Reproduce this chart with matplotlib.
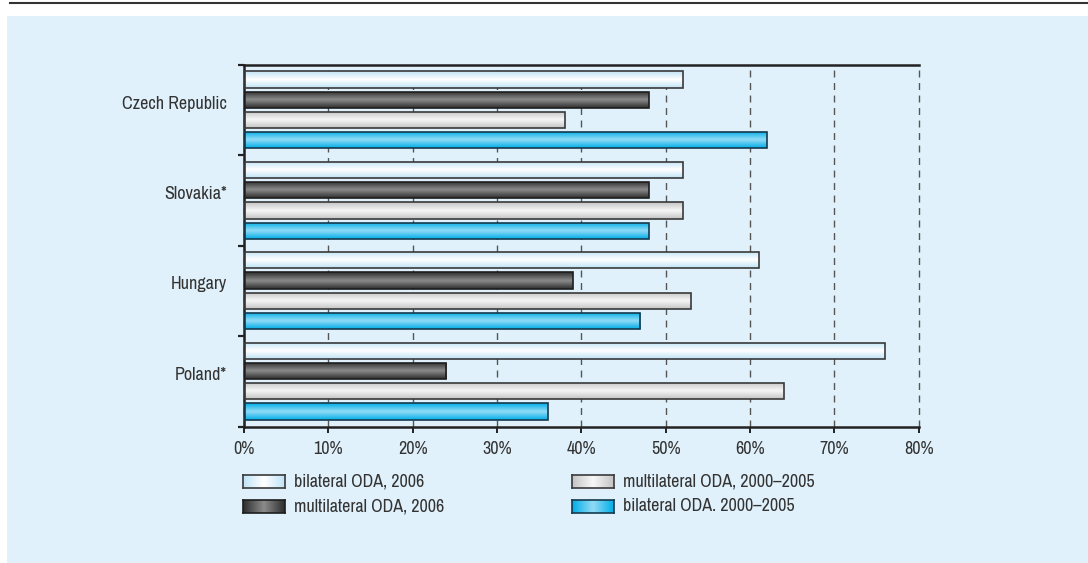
import numpy as np
import matplotlib
matplotlib.use('Agg')
import matplotlib.pyplot as plt
from matplotlib import font_manager
from matplotlib.colors import LinearSegmentedColormap
from matplotlib.patches import Rectangle
from matplotlib.lines import Line2D

countries = ['Czech Republic', 'Slovakia*', 'Hungary', 'Poland*']
series_names = ['bilateral ODA, 2006', 'multilateral ODA, 2006',
                'multilateral ODA, 2000\u20132005', 'bilateral ODA. 2000\u20132005']
bilateral_2006 = [52, 52, 61, 76]
multilateral_2006 = [48, 48, 39, 24]
multilateral_0005 = [38, 52, 53, 64]
bilateral_0005 = [62, 48, 47, 36]
values = [bilateral_2006, multilateral_2006, multilateral_0005, bilateral_0005]

# pick a narrow face if one is installed
names = sorted({f.name for f in font_manager.fontManager.ttflist})
narrow = [n for n in names if 'Narrow' in n or 'Condensed' in n]
stretch = 'normal'
if narrow:
    fam = narrow[0]
else:
    cond = [f for f in font_manager.fontManager.ttflist
            if f.name == 'DejaVu Sans' and f.stretch == 'condensed']
    if cond:
        fam = 'DejaVu Sans'
        stretch = 'condensed'
    else:
        fam = 'Roboto'
plt.rcParams['font.family'] = [fam, 'DejaVu Sans']
plt.rcParams['font.stretch'] = stretch

# (edge colour of gradient, middle colour, outline)
styles = [('#bfe3f6', '#ffffff', '#3a3a3a'),
          ('#2e2e2e', '#8c8c8c', '#1e1e1e'),
          ('#c4c4c4', '#f7f7f7', '#3a3a3a'),
          ('#00aee8', '#92dbf6', '#163a4e')]

bg = '#e0f1fb'
txt = '#333333'
fs = 13

fig = plt.figure(figsize=(10.88, 5.63), dpi=100)
W, H = 1088, 563

# background panel and top rule
fig.patches.append(Rectangle((7 / W, 0), 1, 1 - 16 / H, transform=fig.transFigure,
                             facecolor=bg, edgecolor='none', zorder=-10))
fig.lines.append(Line2D([10 / W, 1], [1 - 2.5 / H, 1 - 2.5 / H], transform=fig.transFigure,
                        color='#333333', lw=1.5))

ax = fig.add_axes([244 / W, 1 - 426.7 / H, (918.8 - 244) / W, (426.7 - 65) / H])
ax.set_facecolor(bg)


def grad_fill(axis, patch, c_edge, c_mid):
    cmap = LinearSegmentedColormap.from_list('g', [c_edge, c_mid, c_edge])
    g = np.linspace(0, 1, 64).reshape(-1, 1)
    x0, y0 = patch.get_x(), patch.get_y()
    w, h = patch.get_width(), patch.get_height()
    im = axis.imshow(g, cmap=cmap, aspect='auto', extent=(x0, x0 + w, y0 + h, y0),
                     interpolation='bicubic', zorder=2.5)
    im.set_clip_path(patch)


offsets = [0.16, 0.384, 0.608, 0.832]
bar_h = 0.18
pos = np.arange(len(countries))
for vals, off, (ce, cm, oc) in zip(values, offsets, styles):
    bars = ax.barh(pos + off, vals, height=bar_h, facecolor='none', edgecolor=oc,
                   linewidth=1.2, zorder=3)
    for p in bars.patches:
        grad_fill(ax, p, ce, cm)

ax.set_xlim(0, 80)
ax.set_ylim(4, 0)
ax.set_xticks(np.arange(0, 81, 10))
ax.set_xticklabels([f'{v}%' for v in range(0, 81, 10)])
ax.set_yticks(pos + 0.41)
ax.set_yticklabels(countries)
ax.set_yticks(np.arange(0, 5), minor=True)
ax.tick_params(axis='y', which='major', length=0, pad=12, labelsize=fs, labelcolor=txt)
ax.tick_params(axis='y', which='minor', length=4.5, width=1.6, color='#222222', direction='out')
ax.tick_params(axis='x', length=4, width=1.4, color='#222222', pad=6, labelsize=fs,
               labelcolor=txt)

ax.grid(axis='x', linestyle=(0, (5, 4)), color='#555555', linewidth=1.0, zorder=1)
ax.set_axisbelow(True)
for gl in ax.get_xgridlines():
    gl.set_clip_on(False)
for s in ['top', 'bottom', 'left']:
    ax.spines[s].set_color('#222222')
    ax.spines[s].set_linewidth(1.8)
ax.spines['right'].set_visible(False)

# legend
leg_pos = [(243.3, 475), (243.3, 499.5), (572.3, 475), (572.3, 499.5)]
for name, (ce, cm, oc), (lx, ly) in zip(series_names, styles, leg_pos):
    sw = fig.add_axes([lx / W, 1 - (ly + 13) / H, 42 / W, 13 / H])
    cmap = LinearSegmentedColormap.from_list('g', [ce, cm, ce])
    sw.imshow(np.linspace(0, 1, 64).reshape(1, -1), cmap=cmap, aspect='auto',
              interpolation='bicubic')
    sw.set_xticks([])
    sw.set_yticks([])
    for s in sw.spines.values():
        s.set_color(oc)
        s.set_linewidth(1.2)
    fig.text((lx + 51) / W, 1 - (ly + 6.5) / H, name, fontsize=fs, color=txt,
             va='center', ha='left')

fig.savefig('out.png', dpi=100)
